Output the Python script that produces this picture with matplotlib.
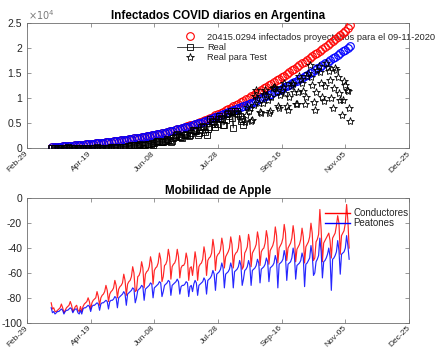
import numpy as np
import pandas as pd
import matplotlib
matplotlib.use('Agg')
import matplotlib.pyplot as plt
import matplotlib.dates as mdates
from matplotlib.lines import Line2D

plt.rcParams['font.family'] = ['Liberation Sans', 'DejaVu Sans']
plt.rcParams['axes.unicode_minus'] = False

# Modelo ajustado (cada 2 dias, 20-mar a 09-nov)
fecha_modelo = pd.date_range('2020-03-20', '2020-11-09', freq='2D')
modelo_proy = [220, 260, 300, 340, 380, 420, 464, 508, 552, 596,
               640, 688, 736, 784, 832, 880, 934, 988, 1042, 1096,
               1150, 1214, 1278, 1342, 1406, 1470, 1542, 1614, 1686, 1758,
               1830, 1912, 1994, 2076, 2158, 2240, 2332, 2424, 2516, 2608,
               2700, 2810, 2920, 3030, 3140, 3250, 3380, 3510, 3640, 3770,
               3950, 4110, 4270, 4430, 4590, 4750, 4930, 5110, 5290, 5470,
               5650, 5880, 6110, 6340, 6570, 6800, 7060, 7320, 7580, 7840,
               8100, 8380, 8660, 8940, 9220, 9500, 9800, 10100, 10400, 10700,
               11000, 11320, 11640, 11960, 12280, 12600, 12920, 13240, 13560, 13880,
               14200, 14540, 14880, 15220, 15560, 15900, 16260, 16620, 16980, 17340,
               17700, 18060, 18420, 18780, 19140, 19500, 19880, 20260, 20640, 21020,
               21400, 21820, 22240, 22660, 23080, 23500, 24050, 24600]
modelo_ajuste = [220, 260, 300, 340, 380, 420, 464, 508, 552, 596,
                 640, 688, 736, 784, 832, 880, 934, 988, 1042, 1096,
                 1150, 1214, 1278, 1342, 1406, 1470, 1542, 1614, 1686, 1758,
                 1830, 1912, 1994, 2076, 2158, 2240, 2332, 2424, 2516, 2608,
                 2700, 2810, 2920, 3030, 3140, 3250, 3380, 3510, 3640, 3770,
                 3900, 4050, 4200, 4350, 4500, 4650, 4820, 4990, 5160, 5330,
                 5500, 5684, 5868, 6052, 6236, 6420, 6616, 6812, 7008, 7204,
                 7400, 7610, 7820, 8030, 8240, 8450, 8670, 8890, 9110, 9330,
                 9550, 9780, 10010, 10240, 10470, 10700, 10940, 11180, 11420, 11660,
                 11900, 12170, 12440, 12710, 12980, 13250, 13540, 13830, 14120, 14410,
                 14700, 15020, 15340, 15660, 15980, 16300, 16640, 16980, 17320, 17660,
                 18000, 18350, 18700, 19050, 19400, 19750, 20080, 20415.0294]

# Casos diarios confirmados (entrenamiento)
fecha_real = pd.date_range('2020-03-19', '2020-08-17', freq='D')
casos_real = [31, 30, 67, 41, 36, 35, 86, 115, 101, 55, 75, 146, 88,
              167, 79, 132, 98, 88, 74, 87, 115, 81, 69, 66, 134, 86, 66, 71,
              119, 105, 80, 124, 104, 134, 144, 103, 173, 111, 97, 123, 124, 158, 143,
              111, 105, 151, 130, 165, 203, 240, 239, 163, 165, 244, 316, 285, 345,
              308, 301, 255, 473, 474, 438, 702, 601, 718, 704, 552, 535, 661, 795,
              736, 0, 607,
              564, 904, 949, 929, 840, 983, 572, 1141, 1226, 1386, 1391, 1531, 1269,
              1282, 1208, 1374, 1393, 1958, 1634, 1581, 1226, 1377, 2146, 2285, 2606,
              2886, 2401, 2189, 2262, 2146,
              2667, 2744, 2845, 2590, 2439, 2632, 2979, 3604, 3663, 3367, 3449, 2657,
              3099, 3645, 4250, 4518, 4231, 3223, 2760, 3937, 4190, 5782, 5493, 5344,
              4880, 4190, 4890, 5939, 6377, 6134, 5929,
              4688, 4733, 5641, 6792, 7147, 6465, 7369, 6134, 4026, 7498, 7043, 7513,
              6840, 6365, 5465, 5802, 4700]

# Casos diarios reservados para test
fecha_test = pd.date_range('2020-08-18', '2020-11-09', freq='D')
casos_test = [5330, 6700, 8200, 7500, 8150, 5500, 5600,
              8700, 10500, 11700, 10100, 9000, 7300, 7000,
              9000, 10900, 11700, 10700, 9600, 7100, 7400,
              10200, 12000, 12300, 12000, 11200, 8400, 8000,
              10600, 11600, 12200, 13000, 11000, 8500, 7700,
              10300, 12500, 13000, 12900, 11200, 8800, 8800,
              11300, 14400, 13800, 13000, 11400, 8800, 10300,
              14400, 15000, 16700, 14200, 12700, 9300, 7700,
              11300, 15600, 16500, 15300, 13000, 10300, 9500,
              12500, 17000, 16300, 15500, 13700, 10000, 8000,
              12000, 16000, 15600, 14200, 11100, 9700, 6700,
              9700, 13400, 12600, 11700, 11500, 8000, 5400]

# Movilidad Apple (% respecto de la referencia), 19-mar a 08-nov
fecha_mov = pd.date_range('2020-03-19', '2020-11-08', freq='D')
conductores = [-84, -89, -88, -91,
               -91, -90, -89, -88, -85, -88, -92,
               -90, -88, -87, -86, -83, -86, -91,
               -89, -87, -86, -90, -91, -87, -91,
               -87, -85, -84, -83, -80, -83, -89,
               -84, -82, -81, -80, -75, -79, -86,
               -80, -78, -77, -75, -70, -74, -83,
               -77, -75, -74, -72, -66, -70, -80,
               -73, -71, -70, -68, -61, -66, -78,
               -69, -67, -66, -63, -55, -60, -75,
               -74, -63, -62, -59, -51, -56, -72,
               -61, -59, -58, -55, -47, -52, -69,
               -58, -56, -55, -52, -44, -49, -67,
               -63, -54, -53, -50, -41, -47, -65,
               -55, -53, -52, -49, -41, -47, -64,
               -56, -54, -54, -52, -44, -49, -66,
               -56, -55, -62, -53, -43, -50, -66,
               -55, -53, -52, -49, -39, -45, -62,
               -50, -48, -47, -44, -33, -40, -58,
               -47, -45, -44, -41, -32, -38, -56,
               -47, -45, -43, -40, -31, -37, -56,
               -46, -44, -43, -40, -30, -36, -57,
               -55, -44, -42, -39, -29, -35, -55,
               -44, -42, -40, -37, -27, -33, -54,
               -43, -41, -40, -36, -26, -32, -53,
               -42, -40, -38, -34, -23, -30, -52,
               -40, -38, -36, -32, -21, -28, -50,
               -40, -38, -36, -32, -22, -30, -51,
               -41, -39, -37, -33, -24, -31, -52,
               -39, -37, -35, -31, -20, -28, -50,
               -48, -35, -33, -29, -9, -25, -51,
               -36, -34, -32, -30, -28, -34, -48,
               -32, -30, -28, -22, -14, -20, -45,
               -30, -28, -26, -20, -5, -18, -40]
peatones = [-88, -92, -91, -93,
            -92, -91, -91, -90, -89, -90, -93,
            -91, -90, -90, -89, -88, -89, -92,
            -90, -89, -89, -92, -93, -90, -93,
            -89, -88, -88, -87, -86, -87, -91,
            -87, -86, -86, -85, -84, -85, -90,
            -85, -84, -84, -83, -82, -83, -89,
            -83, -82, -82, -81, -79, -80, -88,
            -80, -79, -78, -77, -75, -77, -86,
            -77, -76, -75, -74, -72, -73, -84,
            -80, -74, -73, -72, -70, -71, -82,
            -73, -72, -71, -70, -68, -69, -80,
            -72, -71, -70, -69, -67, -68, -79,
            -75, -70, -69, -68, -66, -67, -78,
            -70, -69, -68, -67, -65, -67, -77,
            -71, -70, -70, -69, -67, -68, -79,
            -71, -70, -75, -69, -66, -68, -78,
            -70, -69, -68, -67, -64, -66, -77,
            -66, -65, -64, -62, -58, -61, -74,
            -61, -60, -59, -57, -52, -56, -72,
            -61, -60, -59, -57, -52, -56, -72,
            -59, -58, -57, -55, -50, -54, -70,
            -65, -58, -57, -55, -50, -54, -70,
            -58, -57, -56, -54, -49, -52, -68,
            -57, -56, -55, -53, -48, -51, -67,
            -56, -55, -54, -52, -46, -50, -72,
            -53, -52, -51, -49, -42, -47, -66,
            -53, -52, -51, -48, -40, -46, -65,
            -54, -53, -52, -50, -44, -48, -71,
            -53, -52, -50, -48, -38, -45, -62,
            -60, -51, -49, -46, -32, -43, -64,
            -51, -50, -48, -45, -40, -47, -74,
            -49, -48, -46, -43, -34, -42, -61,
            -45, -44, -43, -40, -30, -38, -49]

xticks = pd.date_range('2020-02-29', periods=7, freq='50D')
label_proy = '20415.0294 infectados proyectados para el 09-11-2020'

gris = '#262626'
eje = '#6e6e6e'


def estilo(ax):
    ax.set_xlim(xticks[0], xticks[-1])
    ax.set_xticks(xticks)
    ax.xaxis.set_major_formatter(mdates.DateFormatter('%b-%d'))
    for lab in ax.get_xticklabels():
        lab.set_rotation(45)
        lab.set_ha('right')
        lab.set_va('center')
        lab.set_rotation_mode('anchor')
        lab.set_fontsize(6)
        lab.set_color(gris)
    ax.tick_params(direction='in', top=True, right=True, length=3, width=0.5,
                   colors=eje, labelcolor=gris, labelsize=7.5)
    ax.tick_params(axis='x', labelsize=6, pad=3)
    for s in ax.spines.values():
        s.set_color(eje)
        s.set_linewidth(0.6)


fig = plt.figure(figsize=(4.46, 3.5), dpi=100)
ax1 = fig.add_axes([27/446, 1-148.3/350, 382/446, 125/350])
ax2 = fig.add_axes([27/446, 1-322.7/350, 382/446, 124.4/350])

# Grafico de infectados
h1, = ax1.plot(fecha_modelo, modelo_proy, 'o', mfc='none', mec='red', ms=5.5, mew=0.8, zorder=3)
ax1.plot(fecha_modelo, modelo_ajuste, 'o', mfc='none', mec='blue', ms=5.5, mew=0.8, zorder=4)
h2, = ax1.plot(fecha_real, casos_real, '-s', color='k', mfc='none', ms=4.6, mew=0.6, lw=0.5, zorder=5)
h3, = ax1.plot(fecha_test, casos_test, '*', color='k', mfc='none', ms=6, mew=0.6, ls='none', zorder=5)
ax1.set_ylim(0, 25000)
ax1.set_yticks([0, 5000, 10000, 15000, 20000, 25000])
ax1.set_yticklabels(['0', '0.5', '1', '1.5', '2', '2.5'])
estilo(ax1)
ax1.set_title('Infectados COVID diarios en Argentina', fontsize=8.4, fontweight='bold', pad=3)
ax1.text(0.002, 1.012, r'$\times10^{4}$', transform=ax1.transAxes, fontsize=7,
         color='#7a7a7a', ha='left', va='bottom')
leg1 = ax1.legend([h1, h2, h3], [label_proy, 'Real', 'Real para Test'],
                  loc='upper left', bbox_to_anchor=(177/446, 1-32.5/350),
                  bbox_transform=fig.transFigure, frameon=False, fontsize=6.7,
                  borderpad=0, borderaxespad=0, handlelength=2.8, handletextpad=0.45,
                  labelspacing=0.15)
leg1.set_zorder(2)
for t in leg1.get_texts():
    t.set_color(gris)

# Grafico de movilidad
ax2.plot(fecha_mov, conductores, color='red', lw=0.85, alpha=0.85)
ax2.plot(fecha_mov, peatones, color='blue', lw=0.85, alpha=0.85)
ax2.set_ylim(-100, 0)
ax2.set_yticks([-100, -80, -60, -40, -20, 0])
estilo(ax2)
ax2.set_title('Mobilidad de Apple', fontsize=8.4, fontweight='bold', pad=3)
hl = [Line2D([], [], color='red', lw=1.0), Line2D([], [], color='blue', lw=1.0)]
leg2 = ax2.legend(hl, ['Conductores', 'Peatones'], loc='upper left',
                  bbox_to_anchor=(325/446, 1-208/350), bbox_transform=fig.transFigure,
                  frameon=False, fontsize=7, borderpad=0, borderaxespad=0,
                  handlelength=2.6, handletextpad=0.3, labelspacing=0.05)
for t in leg2.get_texts():
    t.set_color(gris)

fig.savefig('out.png', dpi=100)
